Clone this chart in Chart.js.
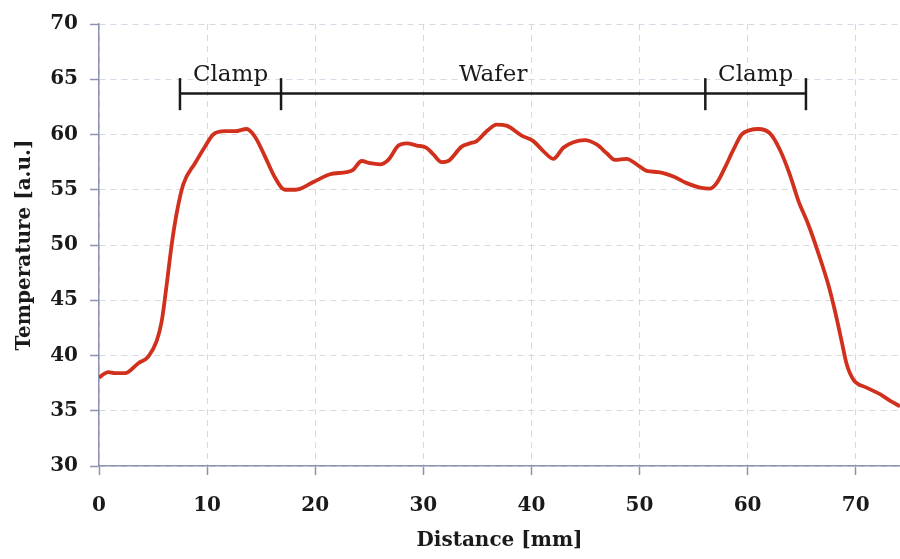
<!DOCTYPE html>
<html>
<head>
<meta charset="utf-8">
<script src="https://cdn.jsdelivr.net/npm/chart.js@4.4.1/dist/chart.umd.min.js"></script>
<style>
  html, body { margin: 0; padding: 0; background: #fff; }
  #wrap { width: 900px; height: 559px; }
</style>
</head>
<body>
<div id="wrap"><canvas id="chart" width="900" height="559"></canvas></div>
<script>
// Profil de température mesuré le long de la ligne
const distance = [0.0, 0.86, 1.48, 2.4, 3.64, 4.56, 5.33, 5.8, 6.26, 6.72, 7.19, 7.8, 8.88, 9.8,
    10.57, 11.66, 12.58, 13.66, 14.43, 15.36, 16.28, 17.2, 18.2, 19.82, 21.37, 22.9, 23.5,
    24.3, 25.07, 26.0, 26.76, 27.7, 28.46, 29.39, 30.3, 30.93, 31.7, 32.3, 33.55, 34.32,
    34.94, 35.86, 36.8, 37.7, 39.1, 40.18, 41.1, 42.03, 42.95, 43.88, 44.96, 46.04, 46.97,
    47.73, 48.8, 49.74, 50.67, 51.74, 53.13, 54.36, 55.6, 56.5, 57.14, 57.9, 58.68, 59.45,
    60.22, 61.0, 62.07, 63.0, 63.9, 64.7, 65.6, 66.5, 67.47, 68.09, 68.7, 69.17, 69.8,
    71.0, 72.25, 73.2, 74.1];
const temperature = [38.0, 38.5, 38.4, 38.4, 39.3, 39.9, 41.3, 43.1, 46.4, 50.0, 52.9, 55.5, 57.4, 58.9,
    60.0, 60.3, 60.3, 60.5, 59.8, 58.0, 56.1, 55.0, 55.0, 55.7, 56.4, 56.6, 56.8,
    57.6, 57.4, 57.3, 57.7, 59.0, 59.2, 59.0, 58.8, 58.2, 57.5, 57.6, 58.9, 59.2,
    59.4, 60.3, 60.9, 60.8, 59.9, 59.4, 58.5, 57.8, 58.8, 59.3, 59.5, 59.1, 58.3,
    57.7, 57.8, 57.3, 56.7, 56.6, 56.2, 55.6, 55.2, 55.1, 55.6, 57.0, 58.6, 60.0,
    60.4, 60.5, 60.1, 58.6, 56.4, 54.0, 51.9, 49.4, 46.4, 44.0, 41.3, 39.2, 37.8,
    37.1, 36.5, 35.9, 35.4];

// Zones (Clamp / Wafer / Clamp) : bornes et libellés
const zoneEdges = [7.49, 16.84, 56.09, 65.4];
const zoneLabels = ['Clamp', 'Wafer', 'Clamp'];
const bracketLevel = 63.7;
const bracketTickLow = 62.2;
const bracketTickHigh = 65.1;
const labelLevel = 64.8;

const xTicks = [0, 10, 20, 30, 40, 50, 60, 70];
const yTicks = [30, 35, 40, 45, 50, 55, 60, 65, 70];

const BRACKET_COLOR = '#1a1a1a';
const CURVE_COLOR = '#d0301c';

// Datasets pour les crochets
const bracketSets = [{
    data: [{ x: zoneEdges[0], y: bracketLevel }, { x: zoneEdges[zoneEdges.length - 1], y: bracketLevel }],
    borderColor: BRACKET_COLOR, borderWidth: 2.5, pointRadius: 0, showLine: true, tension: 0
}];
zoneEdges.forEach(e => {
    bracketSets.push({
        data: [{ x: e, y: bracketTickLow }, { x: e, y: bracketTickHigh }],
        borderColor: BRACKET_COLOR, borderWidth: 2.5, pointRadius: 0, showLine: true, tension: 0
    });
});

const zoneText = {
    id: 'zoneText',
    afterDatasetsDraw(chart) {
        const { ctx, scales: { x, y } } = chart;
        ctx.save();
        ctx.font = '23px "DejaVu Serif"';
        ctx.fillStyle = BRACKET_COLOR;
        ctx.textAlign = 'center';
        ctx.textBaseline = 'alphabetic';
        zoneLabels.forEach((lbl, i) => {
            const mid = (zoneEdges[i] + zoneEdges[i + 1]) / 2;
            ctx.fillText(lbl, x.getPixelForValue(mid), y.getPixelForValue(labelLevel));
        });
        ctx.restore();
    }
};

const tickFont = { family: '"DejaVu Serif"', size: 20, weight: 'bold' };
const titleFont = { family: '"DejaVu Serif"', size: 20, weight: 'bold' };

const axisBorder = { color: '#8e92b0', width: 1.5, dash: [6, 5] };
const axisGrid = {
    color: '#d6d8e4', tickLength: 9,
    tickColor: '#8e92b0', tickBorderDash: [], tickWidth: 1.5
};

new Chart(document.getElementById('chart'), {
    type: 'scatter',
    data: {
        datasets: [{
            data: distance.map((d, i) => ({ x: d, y: temperature[i] })),
            borderColor: CURVE_COLOR,
            borderWidth: 3.8,
            pointRadius: 0,
            showLine: true,
            cubicInterpolationMode: 'monotone'
        }, ...bracketSets]
    },
    options: {
        responsive: false,
        animation: false,
        layout: { padding: { top: 18, right: 0, left: 0, bottom: 0 } },
        plugins: { legend: { display: false }, tooltip: { enabled: false } },
        scales: {
            x: {
                type: 'linear',
                min: 0,
                max: 74.1,
                afterBuildTicks: s => { s.ticks = xTicks.map(v => ({ value: v })); },
                afterFit: s => { s.height = 93; },
                border: axisBorder,
                grid: axisGrid,
                ticks: { font: tickFont, color: '#1a1a1a', padding: 19, maxRotation: 0 },
                title: {
                    display: true, text: 'Distance [mm]', color: '#1a1a1a',
                    font: { ...titleFont, lineHeight: 1.8 }, padding: 0
                }
            },
            y: {
                min: 30,
                max: 70,
                afterBuildTicks: s => { s.ticks = yTicks.map(v => ({ value: v })); },
                afterFit: s => { s.width = 99; },
                border: axisBorder,
                grid: axisGrid,
                ticks: { font: tickFont, color: '#1a1a1a', padding: 12 },
                title: {
                    display: true, text: 'Temperature [a.u.]', color: '#1a1a1a',
                    font: { ...titleFont, lineHeight: 2.5 }, padding: 0
                }
            }
        }
    },
    plugins: [zoneText]
});
</script>
</body>
</html>
